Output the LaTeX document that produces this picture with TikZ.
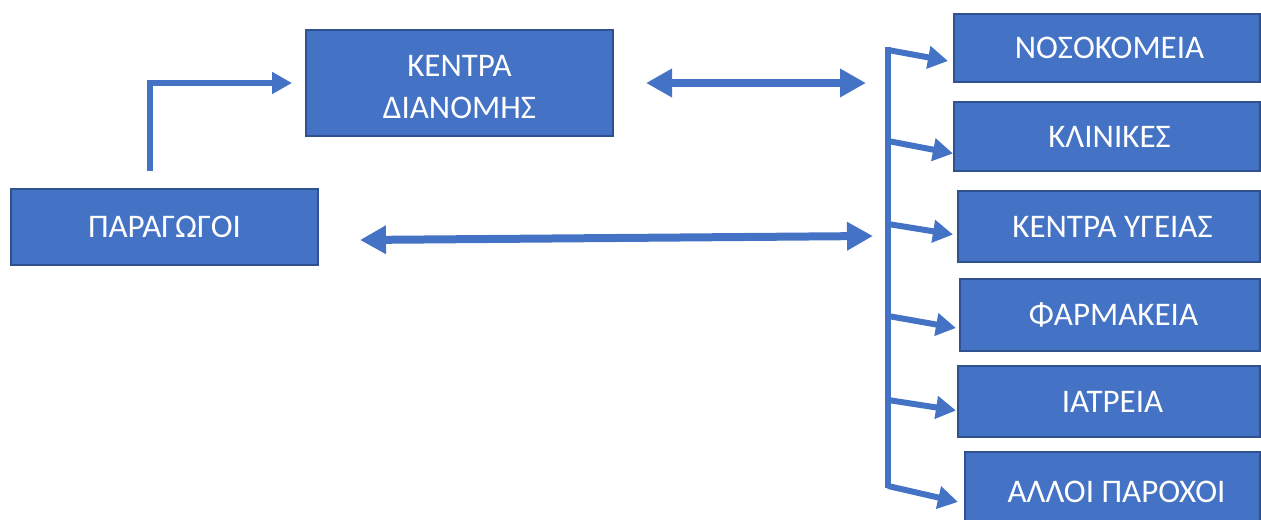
\documentclass[tikz,border=0pt]{standalone}
\usepackage{fontspec}
\setmainfont{Carlito}
\usetikzlibrary{arrows.meta}
\definecolor{boxblue}{HTML}{4472C4}
\definecolor{boxedge}{HTML}{2F528F}
\begin{document}
\begin{tikzpicture}[x=1bp,y=-1bp,
  box/.style={draw=boxedge, line width=2bp, fill=boxblue, text=white, inner sep=0pt,
    font=\fontsize{33bp}{42bp}\selectfont, align=center, anchor=north west},
  dbl/.style={draw=boxblue, line width=8bp, {Triangle[length=26bp,width=27bp]}-{Triangle[length=26bp,width=27bp]}},
  elbow/.style={draw=boxblue, line width=6bp, -{Triangle[length=20bp,width=21bp]}},
  busline/.style={draw=boxblue, line width=6.5bp},
  branch/.style={draw=boxblue, line width=6bp, -{Triangle[length=20bp,width=22bp]}}]
\useasboundingbox (0,0) rectangle (1261,520);
\clip (0,0) rectangle (1261,520);
% left boxes
\node[box, minimum width=307bp, minimum height=106bp] (kentra) at (305,29) {\rule{0pt}{30bp}ΚΕΝΤΡΑ\\ΔΙΑΝΟΜΗΣ};
\node[box, minimum width=307bp, minimum height=76bp] (paragogoi) at (10,188) {ΠΑΡΑΓΩΓΟΙ};
% right boxes
\node[box, minimum width=306bp, minimum height=68bp] (nosok) at (953,13) {\hspace*{5bp}ΝΟΣΟΚΟΜΕΙΑ};
\node[box, minimum width=306bp, minimum height=69bp] (klin) at (953,101) {\hspace*{5bp}ΚΛΙΝΙΚΕΣ};
\node[box, minimum width=302bp, minimum height=71bp] (ygeias) at (957,190) {\hspace*{7bp}ΚΕΝΤΡΑ ΥΓΕΙΑΣ};
\node[box, minimum width=300bp, minimum height=72bp] (farm) at (959,278) {\hspace*{7bp}ΦΑΡΜΑΚΕΙΑ};
\node[box, minimum width=302bp, minimum height=71bp] (iatr) at (957,365) {\hspace*{7bp}ΙΑΤΡΕΙΑ};
\node[box, minimum width=295bp, minimum height=80bp] (alloi) at (964,451) {\rule{0pt}{15bp}\hspace*{8bp}ΑΛΛΟΙ ΠΑΡΟΧΟΙ};
% coordinates
\coordinate (elbowstart) at (150,171);
\coordinate (bustop) at (888,47);
\coordinate (busbot) at (888,488);
\coordinate (hubA) at (866,83);
\coordinate (hubB) at (873,236);
\coordinate (prodEnd) at (360,240);
\coordinate (distEnd) at (646,83);
\coordinate (b1) at (888,50);
\coordinate (b2) at (888,141);
\coordinate (b3) at (888,224);
\coordinate (b4) at (888,316);
\coordinate (b5) at (888,400);
\coordinate (b6) at (888,486);
% connectors
\draw[elbow, shorten >=13bp] (elbowstart) |- (kentra.west);
\draw[dbl] (distEnd) -- (hubA);
\draw[dbl] (prodEnd) -- (hubB);
\draw[busline] (bustop) -- (busbot);
\draw[branch] (b1) -- ([xshift=-5bp,yshift=-13bp]nosok.west);
\draw[branch] (b2) -- ([yshift=-17bp]klin.west);
\draw[branch] (b3) -- ([xshift=-4bp,yshift=-8bp]ygeias.west);
\draw[branch] (b4) -- ([xshift=-3bp,yshift=-13bp]farm.west);
\draw[branch] (b5) -- ([xshift=-1bp,yshift=-9bp]iatr.west);
\draw[branch] (b6) -- ([xshift=-6bp,yshift=-10bp]alloi.west);
\end{tikzpicture}
\end{document}
